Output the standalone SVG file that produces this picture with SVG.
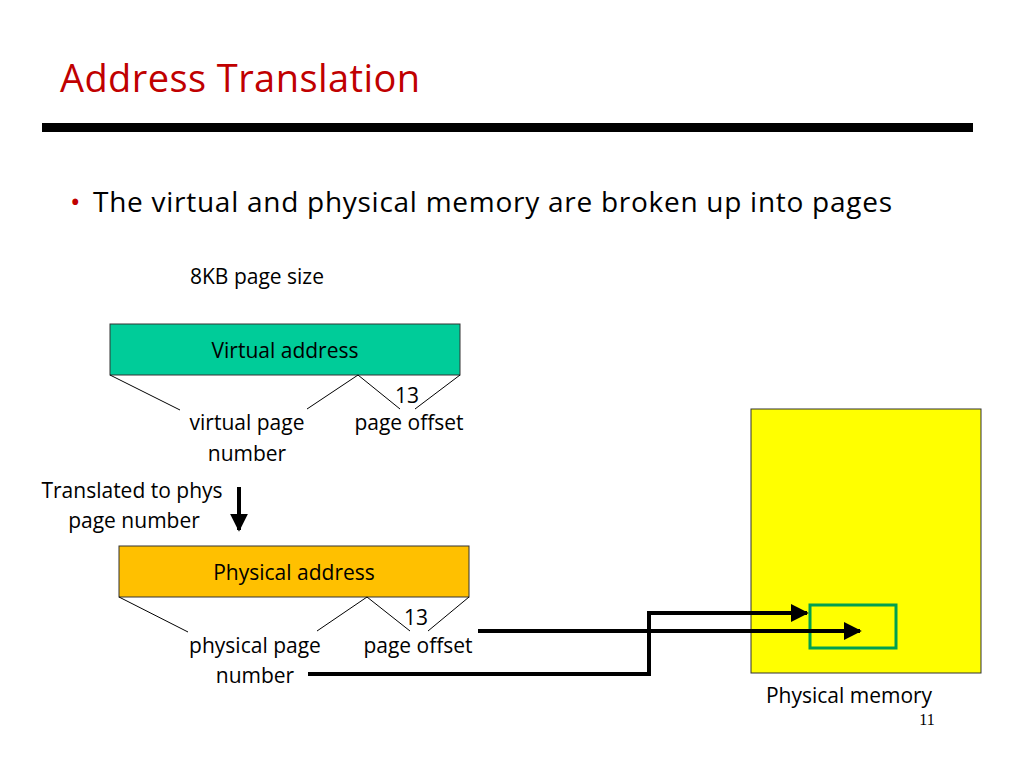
<svg xmlns="http://www.w3.org/2000/svg" width="1024" height="768" viewBox="0 0 1024 768">
<style>
text{font-family:"Open Sans","Noto Sans","Liberation Sans",sans-serif;fill:#000}
.t{font-size:21px}
.thin{stroke:#000;stroke-width:1;fill:none}
.thick{stroke:#000;stroke-width:4;fill:none}
</style>
<defs>
<marker id="ah" viewBox="0 0 10 10" refX="9" refY="5" markerWidth="4.5" markerHeight="4.5" orient="auto"><path d="M0,0L10,5L0,10z" fill="#000"/></marker>
</defs>
<rect width="1024" height="768" fill="#fff"/>
<text x="60" y="92" style="font-size:38px;fill:#C00000" textLength="360">Address Translation</text>
<rect x="42" y="123" width="931" height="9" fill="#000"/>
<text x="70" y="212" style="font-size:28px;fill:#C00000">•</text>
<text x="93" y="212" style="font-size:28px" textLength="799">The virtual and physical memory are broken up into pages</text>
<text x="190" y="284" class="t">8KB page size</text>
<g id="virtual">
<rect x="110" y="324" width="350" height="51" fill="#00CC99" stroke="#333" stroke-width="1"/>
<text x="285" y="358" class="t" text-anchor="middle">Virtual address</text>
<path class="thin" d="M110,375L180,410M358,375L307,409M358,375L400,409M460,375L415,409"/>
<text x="407" y="403" class="t" text-anchor="middle">13</text>
<text x="247" y="430" class="t" text-anchor="middle">virtual page</text>
<text x="247" y="461" class="t" text-anchor="middle">number</text>
<text x="409" y="430" class="t" text-anchor="middle">page offset</text>
</g>
<g id="translate">
<text x="132" y="498" class="t" text-anchor="middle">Translated to phys</text>
<text x="134" y="528" class="t" text-anchor="middle">page number</text>
</g>
<g id="physical">
<rect x="119" y="546" width="350" height="51" fill="#FFC000" stroke="#333" stroke-width="1"/>
<text x="294" y="580" class="t" text-anchor="middle">Physical address</text>
<path class="thin" d="M119,597L188,632M367,597L317,631M367,597L410,631M469,597L428,631"/>
<text x="416" y="625" class="t" text-anchor="middle">13</text>
<text x="255" y="653" class="t" text-anchor="middle">physical page</text>
<text x="255" y="683" class="t" text-anchor="middle">number</text>
<text x="418" y="653" class="t" text-anchor="middle">page offset</text>
</g>
<g id="memory">
<rect x="751" y="409" width="230" height="264" fill="#FFFF00" stroke="#333" stroke-width="1"/>
<rect x="810" y="605" width="86" height="43" fill="none" stroke="#00A050" stroke-width="3"/>
<text x="849" y="703" class="t" text-anchor="middle">Physical memory</text>
</g>
<g id="connectors">
<path class="thick" d="M239,487L239,530" marker-end="url(#ah)"/>
<path class="thick" d="M308,674L649,674L649,613L807,613" marker-end="url(#ah)"/>
<path class="thick" d="M478,631L860,631" marker-end="url(#ah)"/>
</g>
<text x="927" y="725" style="font-family:'Liberation Serif',serif;font-size:16px" text-anchor="middle">11</text>
</svg>
